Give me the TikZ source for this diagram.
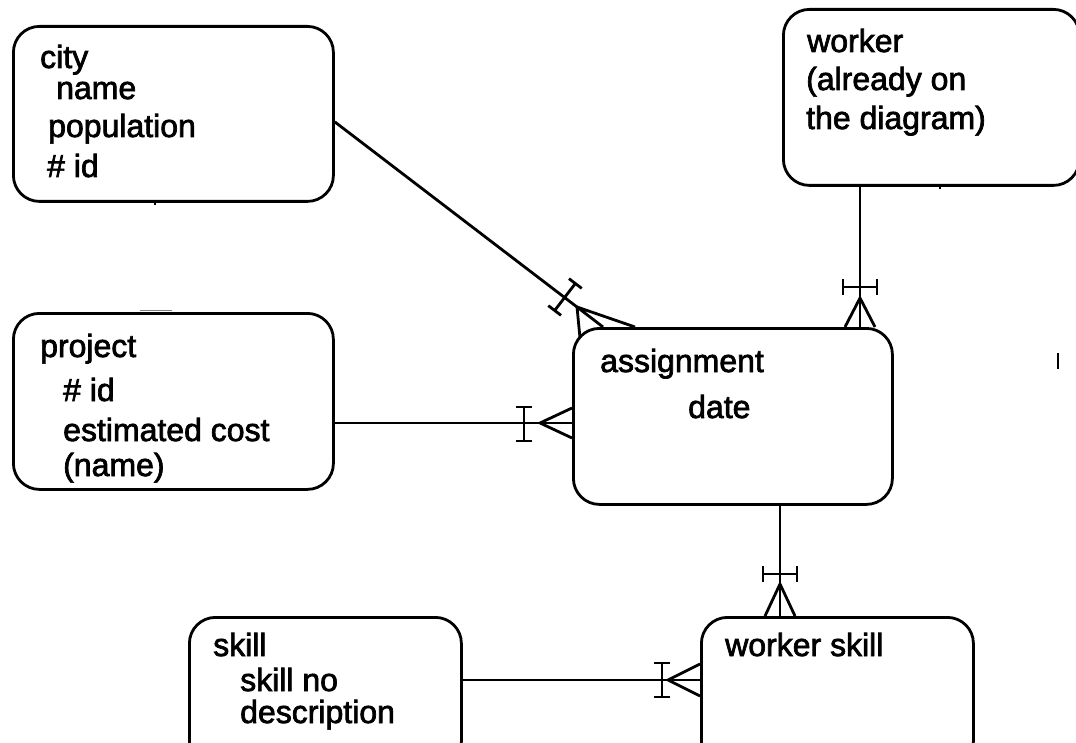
\documentclass[tikz,border=0pt]{standalone}
\usepackage{fontspec}
\setmainfont[FakeBold=2.2]{Liberation Sans}
\usetikzlibrary{calc}
\begin{document}
\begin{tikzpicture}[x=1pt,y=-1pt,
  entity/.style={draw,line width=2.8pt,rounded corners=26pt,anchor=north west,inner sep=0pt},
  lbl/.style={anchor=base west,inner sep=0pt,font=\fontsize{32}{36}\selectfont},
  rel/.style={line width=2.8pt},
  speck/.style={line width=1.8pt},
  ibar/.pic={\draw[line width=2.8pt] (0,-17)--(0,17) (-8,-17)--(8,-17) (-8,17)--(8,17);}]
\useasboundingbox (0,0) rectangle (1076,743);

% entities
\node[entity,minimum width=320pt,minimum height=175pt] (city) at (12,25) {};
\node[entity,minimum width=296pt,minimum height=176pt] (worker) at (782,8) {};
\node[entity,minimum width=320pt,minimum height=176pt] (project) at (12,312) {};
\node[entity,minimum width=319pt,minimum height=176pt] (assignment) at (572,327) {};
\node[entity,minimum width=272pt,minimum height=150pt] (skill) at (188,616) {};
\node[entity,minimum width=272pt,minimum height=150pt] (wskill) at (700,616) {};

% attribute texts
\node[lbl] (cityT) at (40,68) {city};
\node[lbl] (cityA) at (56,99) {name};
\node[lbl] (cityB) at (48,137) {population};
\node[lbl] (cityC) at (47,177) {\# id};

\node[lbl] (workerT) at (807,52) {worker};
\node[lbl] (workerA) at (806,90) {(already on};
\node[lbl] (workerB) at (806,129) {the diagram)};

\node[lbl] (projT) at (40,357) {project};
\node[lbl] (projA) at (63,401) {\# id};
\node[lbl] (projB) at (63,441) {estimated cost};
\node[lbl] (projC) at (63,476) {(name)};

\node[lbl] (assT) at (600,372) {assignment};
\node[lbl] (assA) at (688,418) {date};

\node[lbl] (skillT) at (213,656) {skill};
\node[lbl] (skillA) at (240,691) {skill no};
\node[lbl] (skillB) at (240,723) {description};

\node[lbl] (wsT) at (725,656) {worker skill};

% city -- assignment
\coordinate (cTip) at (577,307);
\draw[rel] ([yshift=-8pt]city.east) -- (cTip);
\draw[rel] (cTip) -- ([xshift=8pt,yshift=-11pt]assignment.north west)
           (cTip) -- ([xshift=31pt]assignment.north west)
           (cTip) -- ([xshift=63pt]assignment.north west);
\pic[rotate=-37.4] at (565,297) {ibar};

% worker -- assignment
\coordinate (wTip) at (860,298);
\draw[rel] (wTip |- worker.south) -- (wTip |- assignment.north);
\draw[rel] (wTip) -- ([xshift=-15pt]wTip |- assignment.north)
           (wTip) -- ([xshift=15pt]wTip |- assignment.north);
\pic[rotate=90] at (860,287) {ibar};

% project -- assignment
\coordinate (pTip) at (540,423);
\draw[rel] (project.east |- pTip) -- (assignment.west |- pTip);
\draw[rel] (pTip) -- ([yshift=15pt]assignment.west |- pTip)
           (pTip) -- ([yshift=-15pt]assignment.west |- pTip);
\pic at (524,424) {ibar};

% assignment -- worker skill
\coordinate (wsTip) at (780,584);
\draw[rel] (wsTip |- assignment.south) -- (wsTip |- wskill.north);
\draw[rel] (wsTip) -- ([xshift=-15pt]wsTip |- wskill.north)
           (wsTip) -- ([xshift=15pt]wsTip |- wskill.north);
\pic[rotate=90] at (780,574) {ibar};

% skill -- worker skill
\coordinate (sTip) at (668,680);
\draw[rel] (skill.east |- sTip) -- (wskill.west |- sTip);
\draw[rel] (sTip) -- ([yshift=16pt]wskill.west |- sTip)
           (sTip) -- ([yshift=-16pt]wskill.west |- sTip);
\pic at (662,680) {ibar};

% stray marks
\coordinate (m1) at (1058,353);
\coordinate (m2) at (1058,369);
\draw[speck] (m1) -- (m2);
\coordinate (m3) at (155,200);
\coordinate (m4) at (155,205);
\draw[speck] (m3) -- (m4);
\coordinate (m5) at (940,184);
\coordinate (m6) at (940,189);
\draw[speck] (m5) -- (m6);
\coordinate (m7) at (140,310);
\coordinate (m8) at (172,310);
\draw[line width=0.8pt,gray] (m7) -- (m8);
\end{tikzpicture}
\end{document}
